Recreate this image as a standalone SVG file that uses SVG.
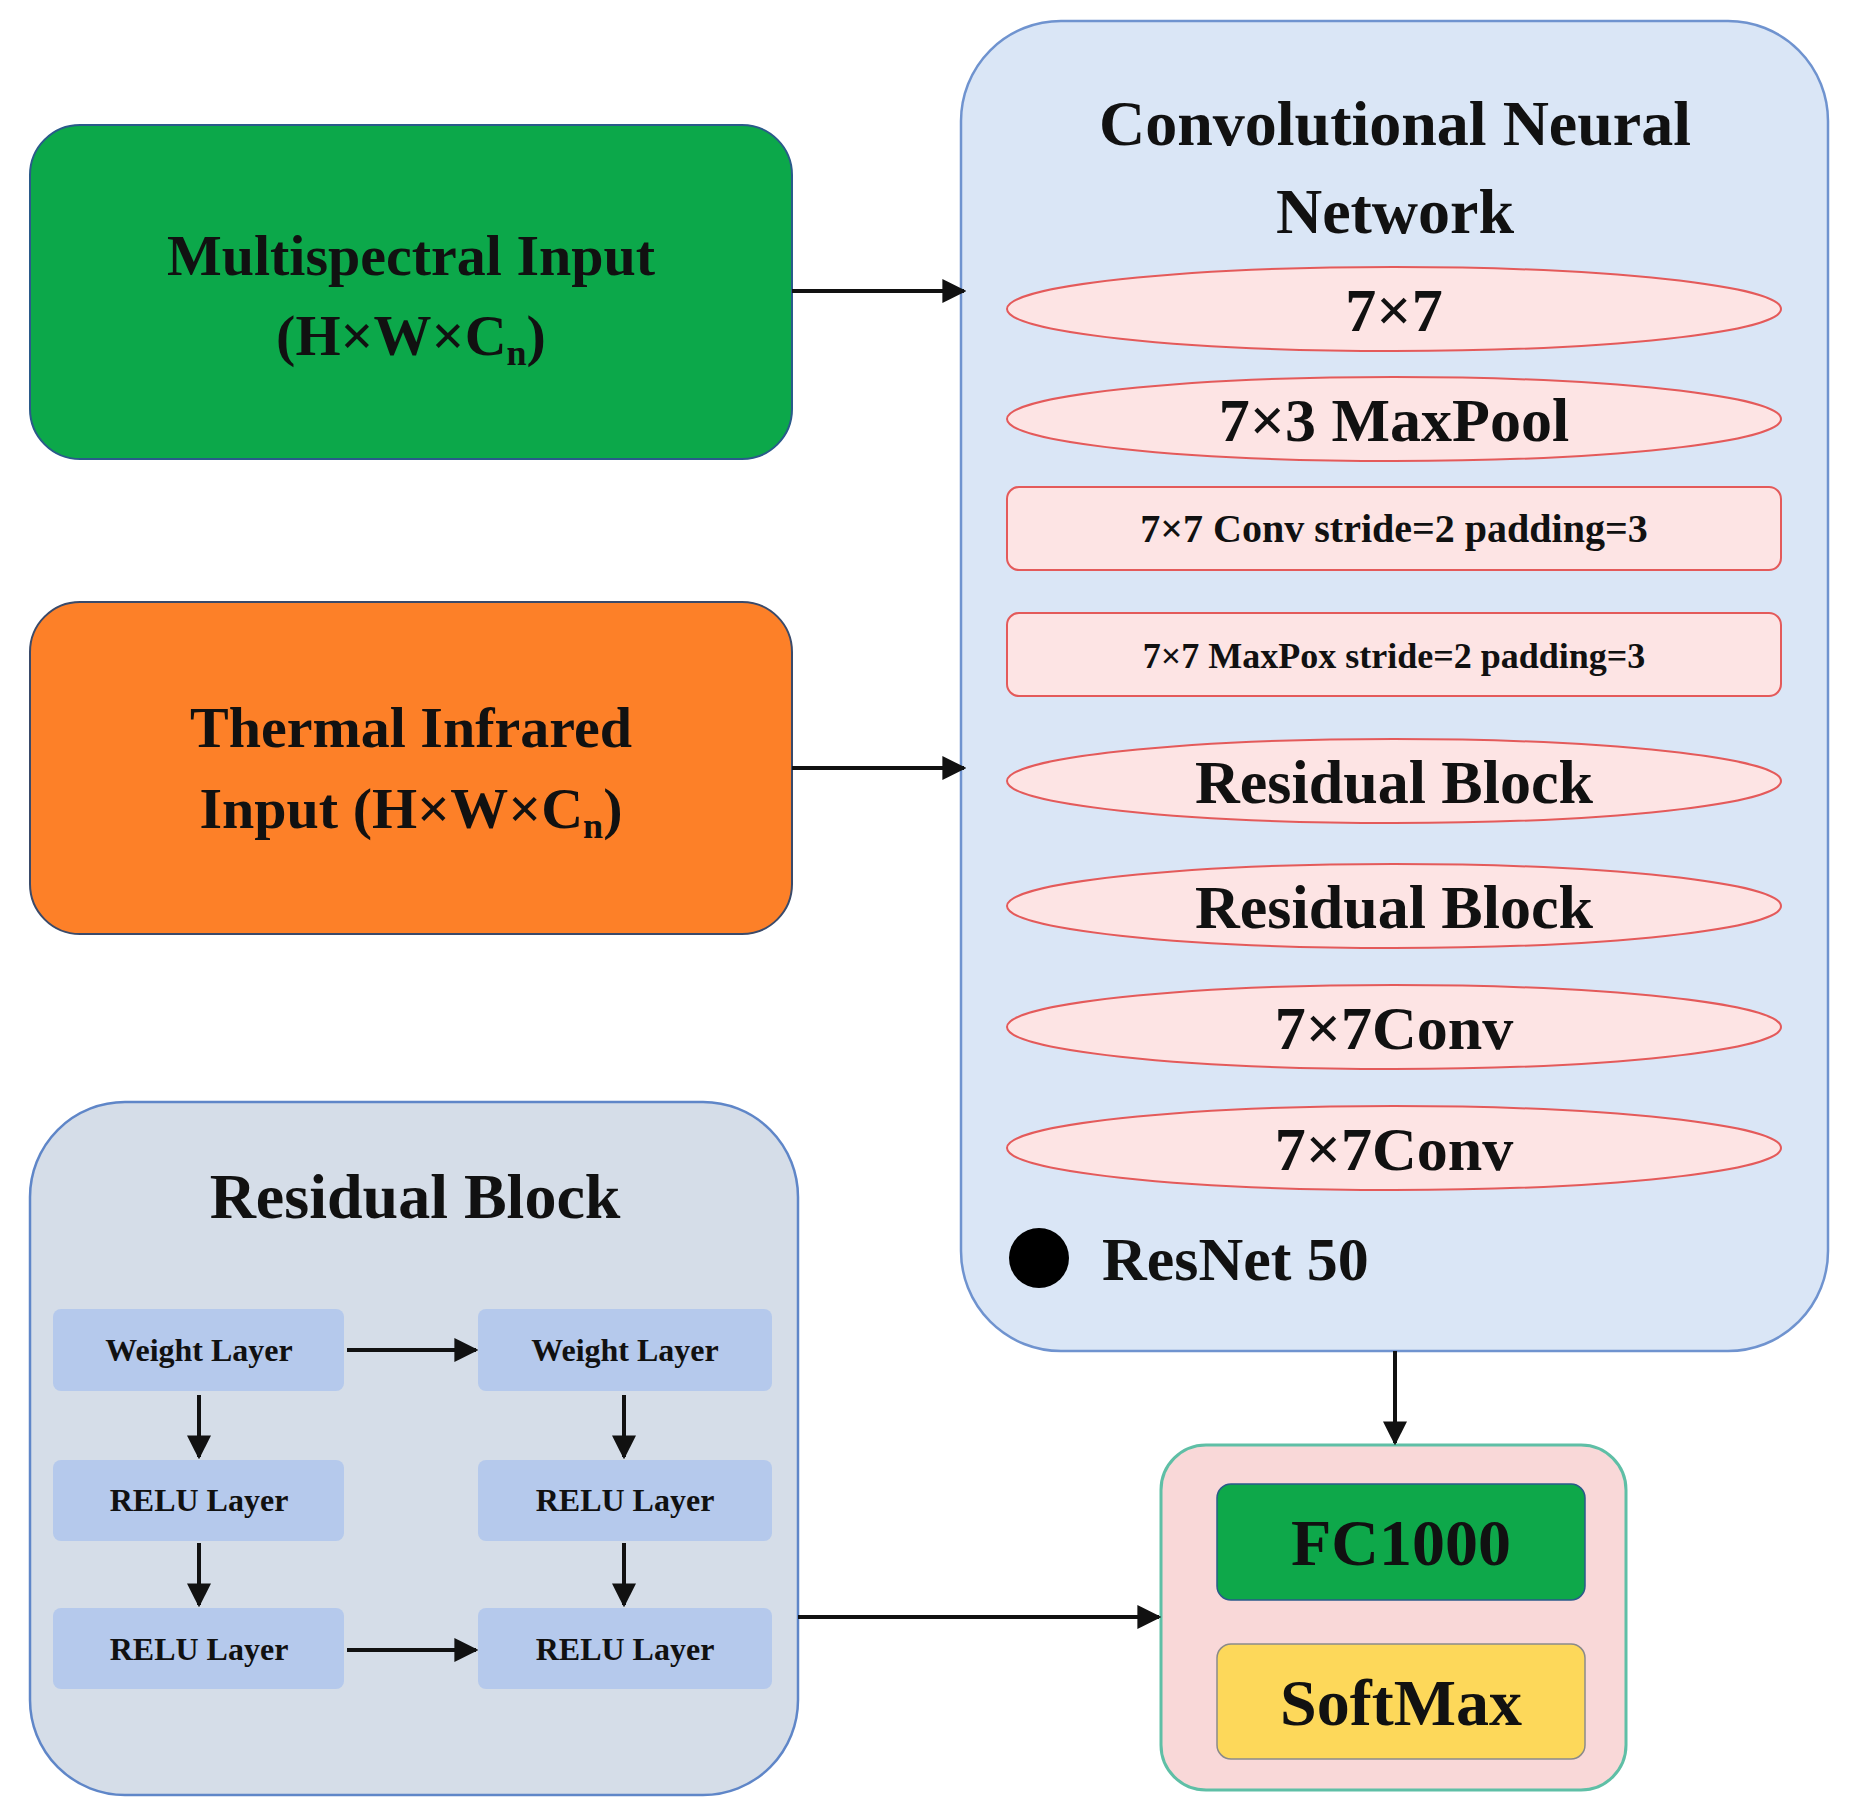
<svg xmlns="http://www.w3.org/2000/svg" width="1861" height="1816" viewBox="0 0 1861 1816">
<style>
text{font-family:"Liberation Serif","Times New Roman",serif;font-weight:bold;fill:#111;text-anchor:middle}
.ell{fill:#fde4e4;stroke:#e45a5a;stroke-width:2}
.sb{fill:#b5c9ec}
.sbt{font-size:32px}
.conn{stroke:#111;stroke-width:4;fill:none;marker-end:url(#ah)}
</style>
<defs><marker id="ah" viewBox="0 0 10 10" refX="9" refY="5" markerWidth="6" markerHeight="6" orient="auto"><path d="M0,0L10,5L0,10z" fill="#111"/></marker></defs>
<rect width="1861" height="1816" fill="#fff"/>
<g id="multispectral"><rect x="30" y="125" width="762" height="334" rx="50" fill="#0ca84a" stroke="#2a5a8a" stroke-width="2"/>
<text x="411" y="275" font-size="58">Multispectral Input</text>
<text x="411" y="355" font-size="58">(H×W×C<tspan font-size="36" dy="10">n</tspan><tspan dy="-10">)</tspan></text></g>
<g id="thermal"><rect x="30" y="602" width="762" height="332" rx="50" fill="#fd8028" stroke="#3a4a6a" stroke-width="2"/>
<text x="411" y="747" font-size="58">Thermal Infrared</text>
<text x="411" y="828" font-size="58">Input (H×W×C<tspan font-size="36" dy="10">n</tspan><tspan dy="-10">)</tspan></text></g>
<g id="cnn"><rect x="961" y="21" width="867" height="1330" rx="100" fill="#dae6f6" stroke="#6f93cf" stroke-width="2.5"/>
<text x="1395" y="145" font-size="64">Convolutional Neural</text>
<text x="1395" y="233" font-size="64">Network</text>
<ellipse class="ell" cx="1394" cy="309" rx="387" ry="42"/><text x="1394" y="331" font-size="62">7×7</text>
<ellipse class="ell" cx="1394" cy="419" rx="387" ry="42"/><text x="1394" y="441" font-size="62">7×3 MaxPool</text>
<rect class="ell" x="1007" y="487" width="774" height="83" rx="12"/><text x="1394" y="542" font-size="40">7×7 Conv stride=2 padding=3</text>
<rect class="ell" x="1007" y="613" width="774" height="83" rx="12"/><text x="1394" y="668" font-size="36">7×7 MaxPox stride=2 padding=3</text>
<ellipse class="ell" cx="1394" cy="781" rx="387" ry="42"/><text x="1394" y="803" font-size="62">Residual Block</text>
<ellipse class="ell" cx="1394" cy="906" rx="387" ry="42"/><text x="1394" y="928" font-size="62">Residual Block</text>
<ellipse class="ell" cx="1394" cy="1027" rx="387" ry="42"/><text x="1394" y="1049" font-size="62">7×7Conv</text>
<ellipse class="ell" cx="1394" cy="1148" rx="387" ry="42"/><text x="1394" y="1170" font-size="62">7×7Conv</text>
<circle cx="1039" cy="1258" r="30" fill="#000"/>
<text x="1102" y="1280" font-size="62" style="text-anchor:start">ResNet 50</text></g>
<g id="output"><rect x="1161" y="1445" width="465" height="345" rx="45" fill="#f9d8d8" stroke="#5fbfa6" stroke-width="3"/>
<rect x="1217" y="1484" width="368" height="116" rx="14" fill="#0ea84a" stroke="#2a5a8a" stroke-width="1.5"/><text x="1401" y="1565" font-size="66">FC1000</text>
<rect x="1217" y="1644" width="368" height="115" rx="14" fill="#fdd85a" stroke="#8a8a8a" stroke-width="1.5"/><text x="1401" y="1725" font-size="66">SoftMax</text></g>
<g id="residual"><rect x="30" y="1102" width="768" height="693" rx="95" fill="#d5dde8" stroke="#5f86c8" stroke-width="2.5"/>
<text x="415" y="1218" font-size="64">Residual Block</text>
<rect class="sb" x="53" y="1309" width="291" height="82" rx="8"/><text class="sbt" x="199" y="1361">Weight Layer</text>
<rect class="sb" x="478" y="1309" width="294" height="82" rx="8"/><text class="sbt" x="625" y="1361">Weight Layer</text>
<rect class="sb" x="53" y="1460" width="291" height="81" rx="8"/><text class="sbt" x="199" y="1511">RELU Layer</text>
<rect class="sb" x="478" y="1460" width="294" height="81" rx="8"/><text class="sbt" x="625" y="1511">RELU Layer</text>
<rect class="sb" x="53" y="1608" width="291" height="81" rx="8"/><text class="sbt" x="199" y="1660">RELU Layer</text>
<rect class="sb" x="478" y="1608" width="294" height="81" rx="8"/><text class="sbt" x="625" y="1660">RELU Layer</text></g>
<g id="connectors">
<line class="conn" x1="792" y1="291" x2="964" y2="291"/>
<line class="conn" x1="792" y1="768" x2="964" y2="768"/>
<line class="conn" x1="1395" y1="1351" x2="1395" y2="1443"/>
<line class="conn" x1="798" y1="1617" x2="1159" y2="1617"/>
<line class="conn" x1="347" y1="1350" x2="476" y2="1350"/>
<line class="conn" x1="347" y1="1650" x2="476" y2="1650"/>
<line class="conn" x1="199" y1="1395" x2="199" y2="1457"/>
<line class="conn" x1="624" y1="1395" x2="624" y2="1457"/>
<line class="conn" x1="199" y1="1543" x2="199" y2="1605"/>
<line class="conn" x1="624" y1="1543" x2="624" y2="1605"/>
</g>
</svg>
